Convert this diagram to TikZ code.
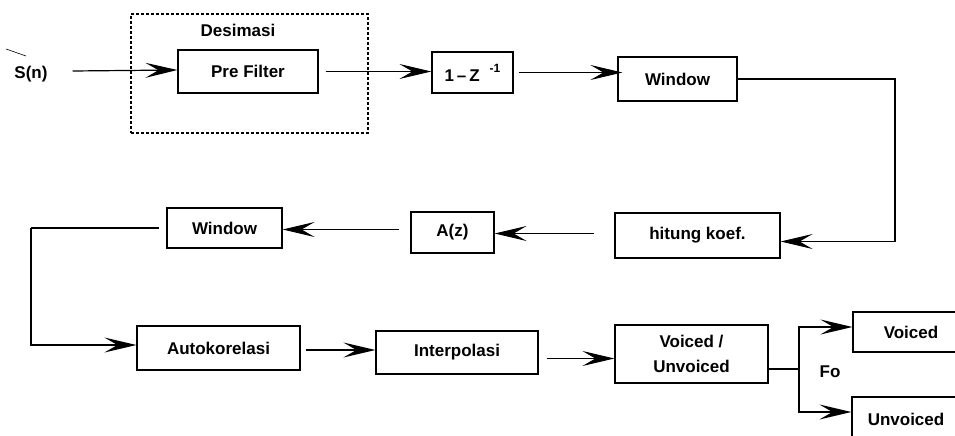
\documentclass[tikz,border=0pt]{standalone}
\usepackage{fontspec}
\setmainfont{Liberation Sans}
\usetikzlibrary{arrows.meta}
\tikzset{
  blk/.style={draw, line width=1.2pt, inner sep=0pt, font=\bfseries\fontsize{17}{21}\selectfont, align=center},
  lbl/.style={inner sep=0pt, font=\bfseries\fontsize{17}{21}\selectfont},
  ln/.style={line width=1.2pt},
  arr/.style={line width=1.2pt, -{Stealth[length=32pt,width=15pt,inset=13pt]}},
  grp/.style={draw, dashed, dash pattern=on 3pt off 2pt, line width=1.4pt, inner sep=0pt}
}
\begin{document}
\begin{tikzpicture}[x=1pt,y=-1pt]
\useasboundingbox (0,0) rectangle (955,436);
\clip (0,0) rectangle (955,436);
% decimation group
\node[grp, minimum width=237pt, minimum height=119pt] (dec) at (249.5,73.5) {};
\node[lbl] (declbl) at (238,30) {Desimasi};
% blocks
\node[lbl] (sn) at (31,74) {S(n)};
\draw[line width=0.6pt] (6,49) -- (26,56);
\node[blk, minimum width=140pt, minimum height=43pt] (pre) at (248,71.5) {Pre Filter};
\node[blk, minimum width=81pt, minimum height=41pt] (zinv) at (472.5,72.5) {1\,–\,Z\hspace{10pt}\raisebox{9pt}{\fontsize{12}{12}\selectfont -1}};
\node[blk, minimum width=119pt, minimum height=44pt] (win1) at (677.5,79) {Window};
\node[blk, minimum width=165pt, minimum height=45pt] (hit) at (697.5,235.5) {hitung koef.};
\node[blk, minimum width=83pt, minimum height=41pt] (az) at (452.5,232.5) {A(z)};
\node[blk, minimum width=115pt, minimum height=40pt] (win2) at (224.5,228) {Window};
\node[blk, minimum width=163pt, minimum height=44pt] (auto) at (218.5,348) {Autokorelasi};
\node[blk, minimum width=162pt, minimum height=43pt] (interp) at (457,352.5) {Interpolasi};
\node[blk, minimum width=153pt, minimum height=58pt] (vuv) at (691.5,354) {Voiced /\\[4pt]Unvoiced};
\node[blk, minimum width=116pt, minimum height=40pt] (voiced) at (911,332) {Voiced};
\node[blk, minimum width=108pt, minimum height=44pt] (unvoiced) at (906,419) {Unvoiced};
\node[lbl] (fo) at (830,372) {Fo};
% connectors
\coordinate (c1) at (895,79);
\coordinate (c2) at (31,228);
\coordinate (c3) at (799,369);
\draw[arr] ([xshift=25pt,yshift=3pt]sn.east) -- ([yshift=1.5pt]pre.west);
\draw[arr] ([xshift=7pt]pre.east) -- (pre.east -| zinv.west);
\draw[arr] ([xshift=5pt]zinv.east) -- ([xshift=5pt]zinv.east -| win1.west);
\draw[arr] (win1.east) -- (c1) |- ([yshift=-6pt]hit.east);
\draw[arr] ([xshift=-20pt,yshift=2pt]hit.west) -- ([yshift=2pt]hit.west -| az.east);
\draw[arr] ([xshift=-11pt,yshift=3pt]az.west) -- ([yshift=3pt]az.west -| win2.east);
\draw[ln] ([xshift=-7pt]win2.west) -- (c2);
\draw[arr] (c2) |- ([yshift=3pt]auto.west);
\draw[arr] ([xshift=5pt,yshift=-2pt]auto.east) -- ([yshift=-2pt]auto.east -| interp.west);
\draw[arr] ([xshift=8pt,yshift=-6pt]interp.east) -- ([yshift=-6pt]interp.east -| vuv.west);
\draw[ln] ([yshift=-15pt]vuv.east) -- (c3);
\draw[arr] (c3) |- ([yshift=5pt]voiced.west);
\draw[arr] (c3) |- ([yshift=7pt]unvoiced.west);
\end{tikzpicture}
\end{document}
